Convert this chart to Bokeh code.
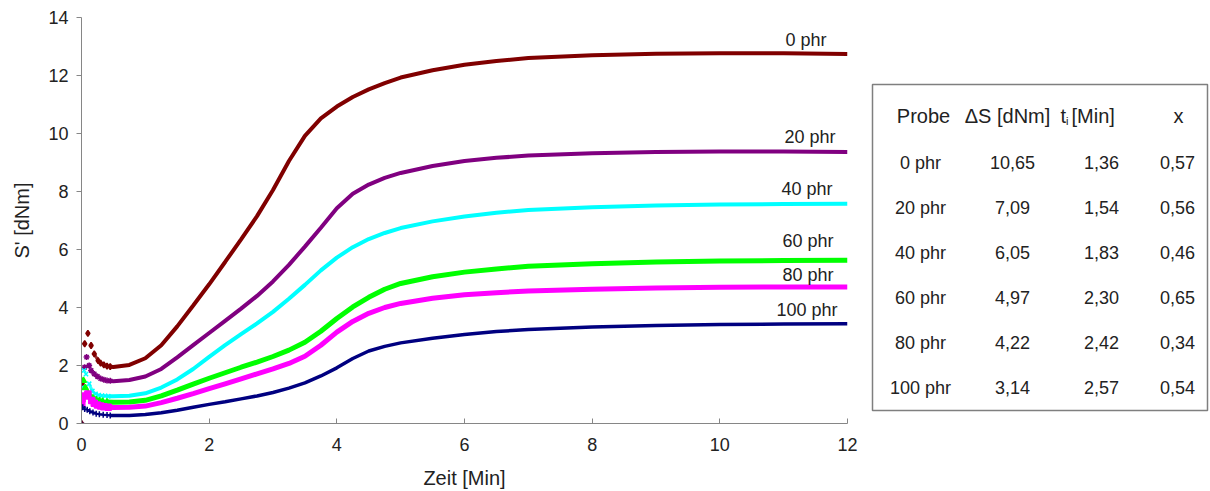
from bokeh.plotting import figure
from bokeh.models import Range1d, FixedTicker
from bokeh.layouts import row
from bokeh.embed import file_html
from bokeh.resources import INLINE
from bokeh.core.properties import value

# ---------------- data ----------------
probes = ["0 phr", "20 phr", "40 phr", "60 phr", "80 phr", "100 phr"]

zeit = [0.5, 0.75, 1.0, 1.25, 1.5, 1.75, 2.0, 2.25, 2.5, 2.75, 3.0, 3.25, 3.5, 3.75,
        4.0, 4.25, 4.5, 4.75, 5.0, 5.5, 6.0, 6.5, 7.0, 8.0, 9.0, 10.0, 11.0, 12.0]

s_0phr = [1.95, 2.02, 2.25, 2.7, 3.35, 4.07, 4.8, 5.57, 6.35, 7.15, 8.05, 9.05, 9.92, 10.52,
          10.93, 11.26, 11.52, 11.74, 11.93, 12.18, 12.37, 12.5, 12.6, 12.7, 12.75, 12.77, 12.77, 12.74]
s_20phr = [1.46, 1.5, 1.62, 1.88, 2.28, 2.7, 3.12, 3.54, 3.96, 4.4, 4.9, 5.47, 6.1, 6.75,
           7.42, 7.92, 8.24, 8.47, 8.64, 8.88, 9.05, 9.16, 9.24, 9.32, 9.36, 9.38, 9.38, 9.36]
s_40phr = [0.94, 0.96, 1.04, 1.24, 1.52, 1.88, 2.3, 2.7, 3.08, 3.45, 3.85, 4.3, 4.78, 5.28,
           5.72, 6.08, 6.36, 6.57, 6.74, 6.97, 7.14, 7.27, 7.36, 7.46, 7.52, 7.55, 7.57, 7.58]
s_60phr = [0.73, 0.74, 0.8, 0.95, 1.15, 1.36, 1.56, 1.75, 1.94, 2.12, 2.31, 2.53, 2.8, 3.18,
           3.62, 4.02, 4.35, 4.63, 4.83, 5.06, 5.22, 5.33, 5.42, 5.51, 5.57, 5.6, 5.62, 5.63]
s_80phr = [0.55, 0.56, 0.6, 0.72, 0.87, 1.03, 1.2, 1.37, 1.54, 1.71, 1.88, 2.07, 2.32, 2.7,
           3.15, 3.52, 3.8, 4.0, 4.14, 4.32, 4.44, 4.51, 4.57, 4.63, 4.67, 4.7, 4.71, 4.71]
s_100phr = [0.28, 0.28, 0.31, 0.37, 0.46, 0.56, 0.66, 0.75, 0.85, 0.95, 1.07, 1.22, 1.4, 1.64,
            1.92, 2.24, 2.5, 2.66, 2.78, 2.94, 3.07, 3.17, 3.24, 3.33, 3.38, 3.41, 3.43, 3.44]

# early (scattered) measuring points before the minimum
t_early_0phr = [0.0, 0.01, 0.05, 0.1, 0.15, 0.2, 0.26, 0.3, 0.35, 0.4, 0.45]
s_early_0phr = [0.0, 1.37, 2.75, 3.11, 2.69, 2.4, 2.17, 2.08, 2.02, 1.98, 1.96]
t_early_20phr = [0.05, 0.08, 0.12, 0.15, 0.2, 0.25, 0.3, 0.35, 0.4, 0.45]
s_early_20phr = [1.94, 2.29, 2.0, 1.83, 1.71, 1.62, 1.55, 1.51, 1.48, 1.47]
t_early_40phr = [0.02, 0.04, 0.07, 0.12, 0.17, 0.22, 0.27, 0.32, 0.37, 0.42]
s_early_40phr = [1.25, 1.83, 1.7, 1.37, 1.12, 1.02, 0.98, 0.96, 0.95, 0.94]
t_early_60phr = [0.0, 0.03, 0.06, 0.1, 0.13, 0.18, 0.23, 0.28, 0.33, 0.4]
s_early_60phr = [0.56, 1.48, 1.23, 1.05, 0.97, 0.88, 0.82, 0.78, 0.76, 0.74]
t_early_80phr = [0.005, 0.01, 0.06, 0.1, 0.16, 0.2, 0.25, 0.3, 0.35, 0.42]
s_early_80phr = [0.7, 0.85, 0.95, 1.02, 0.79, 0.7, 0.64, 0.6, 0.58, 0.56]
t_early_100phr = [0.0, 0.02, 0.05, 0.09, 0.13, 0.18, 0.23, 0.28, 0.34, 0.4, 0.45]
s_early_100phr = [0.0, 0.56, 0.5, 0.47, 0.42, 0.38, 0.34, 0.32, 0.3, 0.29, 0.28]

x_ticks = [0, 2, 4, 6, 8, 10, 12]
y_ticks = [0, 2, 4, 6, 8, 10, 12, 14]

table_header = ["Probe", "\u0394S [dNm]", "x"]
table_dS = ["10,65", "7,09", "6,05", "4,97", "4,22", "3,14"]
table_ti = ["1,36", "1,54", "1,83", "2,30", "2,42", "2,57"]
table_x = ["0,57", "0,56", "0,46", "0,65", "0,34", "0,54"]

# ---------------- styles ----------------
FONT = value("Liberation Sans")
TXT = "#222222"
colors = ["#800000", "#800080", "#00FFFF", "#00FF00", "#FF00FF", "#000080"]
markers = ["diamond", "asterisk", "x", "triangle", "square", "cross"]
line_widths = [4, 4, 4, 5, 5, 3.5]
label_dx = [-21, -12, -15, -14, -14, -10]
label_dy = [14, 15, 15, 19, 12, 14]

series = [s_0phr, s_20phr, s_40phr, s_60phr, s_80phr, s_100phr]
early_t = [t_early_0phr, t_early_20phr, t_early_40phr, t_early_60phr, t_early_80phr, t_early_100phr]
early_s = [s_early_0phr, s_early_20phr, s_early_40phr, s_early_60phr, s_early_80phr, s_early_100phr]

BORDER_TOP, BORDER_BOTTOM = 17, 68

p = figure(width=866, height=491, x_range=Range1d(0, 12), y_range=Range1d(0, 14),
           output_backend="svg", toolbar_location=None,
           min_border_left=81, min_border_right=19,
           min_border_top=BORDER_TOP, min_border_bottom=BORDER_BOTTOM)
p.grid.visible = False
p.outline_line_color = None

for ys, et, es, c, m, lw in zip(series, early_t, early_s, colors, markers, line_widths):
    p.scatter(et, es, marker=m, size=6, line_color=c, fill_color=c, line_width=1.5)
    # decaying tail after the initial peak joins the main curve
    k = es.index(max(es)) + 2
    p.line(et[k:], es[k:], line_color=c, line_width=lw - 1, line_alpha=0.8)
    p.line([et[-1]] + zeit, [es[-1]] + ys, line_color=c, line_width=lw)

p.text(x=[zeit[-1]] * len(probes), y=[s[-1] for s in series], text=probes,
       x_offset=label_dx, y_offset=[-d for d in label_dy],
       text_align="right", text_baseline="alphabetic",
       text_font=FONT, text_font_size=value("18px"), text_color=TXT)

for ax in (p.xaxis[0], p.yaxis[0]):
    ax.axis_line_color = "#868686"
    ax.major_tick_line_color = "#868686"
    ax.minor_tick_line_color = None
    ax.major_label_text_font = "Liberation Sans"
    ax.major_label_text_font_size = "18px"
    ax.major_label_text_color = TXT
    ax.axis_label_text_font = "Liberation Sans"
    ax.axis_label_text_font_size = "20px"
    ax.axis_label_text_font_style = "normal"
    ax.axis_label_text_color = TXT

p.xaxis.ticker = FixedTicker(ticks=x_ticks)
p.yaxis.ticker = FixedTicker(ticks=y_ticks)
p.xaxis.major_tick_in = 5
p.xaxis.major_tick_out = 0
p.yaxis.major_tick_in = 0
p.yaxis.major_tick_out = 5
p.xaxis.major_label_standoff = 14
p.yaxis.major_label_standoff = 8
p.xaxis.axis_label = "Zeit [Min]"
p.yaxis.axis_label = "S' [dNm]"
p.xaxis.axis_label_standoff = 13
p.yaxis.axis_label_standoff = 12

# ---------------- table (page-pixel coordinates) ----------------
t = figure(width=344, height=491, x_range=Range1d(866, 1210),
           y_range=Range1d(491 - BORDER_BOTTOM, BORDER_TOP),
           output_backend="svg", toolbar_location=None,
           min_border_left=0, min_border_right=0,
           min_border_top=BORDER_TOP, min_border_bottom=BORDER_BOTTOM,
           x_axis_location=None, y_axis_location=None)
t.grid.visible = False
t.outline_line_color = None

t.quad(left=[872], right=[1207], top=[84], bottom=[410], fill_color=None,
       line_color="#7f7f7f", line_width=1.5)

head_y = 115
t.text(x=[923, 1007, 1178], y=[head_y] * 3, text=table_header, text_align="center",
       text_baseline="middle", text_font=FONT, text_font_size=value("20px"), text_color=TXT)
t.text(x=[1060], y=[head_y], text=["t"], text_align="left", text_baseline="middle",
       text_font=FONT, text_font_size=value("20px"), text_color=TXT)
t.text(x=[1065.5], y=[head_y + 5], text=["i"], text_align="left", text_baseline="middle",
       text_font=FONT, text_font_size=value("11px"), text_color=TXT)
t.text(x=[1071], y=[head_y], text=["[Min]"], text_align="left", text_baseline="middle",
       text_font=FONT, text_font_size=value("20px"), text_color=TXT)

row_y = [162 + 45 * i for i in range(len(probes))]
for cx, col in zip([920, 1012, 1101, 1177], [probes, table_dS, table_ti, table_x]):
    t.text(x=[cx] * len(col), y=row_y, text=col, text_align="center", text_baseline="middle",
           text_font=FONT, text_font_size=value("18px"), text_color=TXT)

layout = row(p, t)
open("out.html", "w").write(file_html(layout, INLINE))
